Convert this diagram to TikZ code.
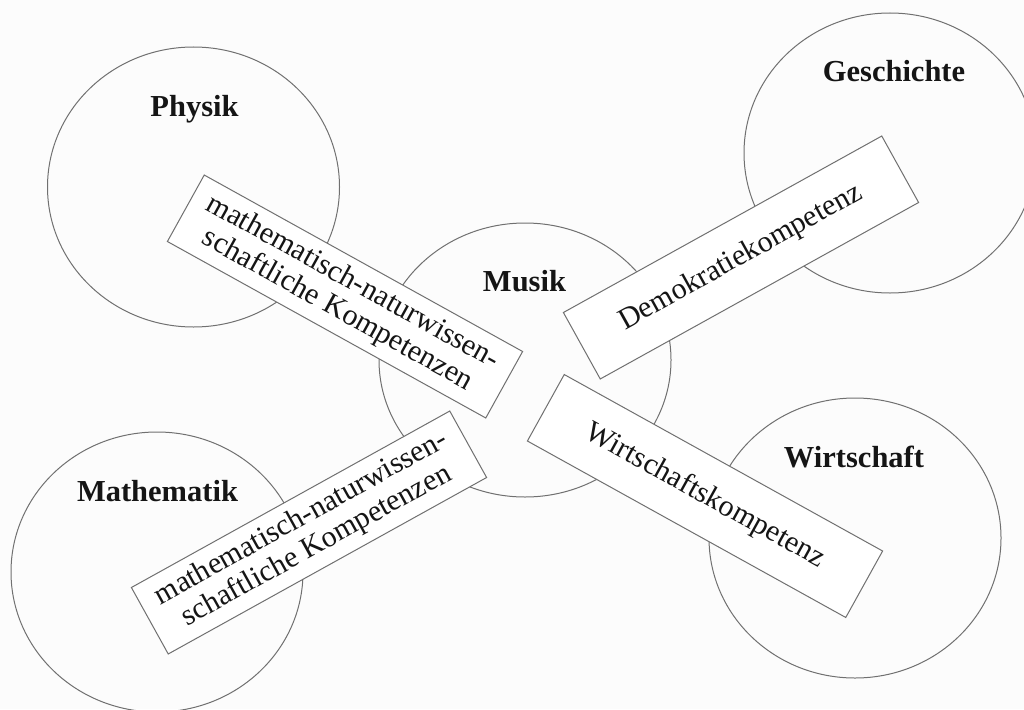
\documentclass[tikz,border=0pt]{standalone}
\usepackage{fontspec}
\setmainfont{Liberation Serif}
\usetikzlibrary{shapes.geometric}
\definecolor{bgc}{HTML}{FCFCFC}
\definecolor{linec}{HTML}{707070}
\definecolor{txtc}{HTML}{151515}
\tikzset{
  circ/.style={ellipse, draw=linec, line width=1pt, inner sep=0pt, minimum width=292pt, minimum height=280pt},
  subj/.style={anchor=base, text=txtc, inner sep=0pt, font=\fontsize{30.5}{32}\selectfont\bfseries},
  kbox/.style={rectangle, draw=linec, line width=1pt, fill=white, inner sep=0pt,
    minimum width=364pt, minimum height=76pt, align=center, text=txtc,
    font=\fontsize{30}{31.5}\selectfont}
}
\begin{document}
\begin{tikzpicture}[x=1pt,y=-1pt]
\fill[bgc] (0,0) rectangle (1024,709);
\useasboundingbox (0,0) rectangle (1024,709);
% circles
\node[circ] (cphys) at (193.5,187) {};
\node[circ] (cgesch) at (890,153) {};
\node[circ, minimum height=274pt] (cmusik) at (525,360) {};
\node[circ] (cmath) at (157,572) {};
\node[circ] (cwirt) at (855,538) {};
% subject labels
\node[subj] (lphys) at (194.5,116.7) {Physik};
\node[subj] (lgesch) at (894,81.7) {Geschichte};
\node[subj] (lmusik) at (524.5,291.7) {Musik};
\node[subj] (lmath) at (157.5,501.7) {Mathematik};
\node[subj] (lwirt) at (854,467) {Wirtschaft};
% competence boxes
\node[kbox, rotate=-29] (bphys) at (345,296.5) {mathematisch-naturwissen-\\schaftliche Kompetenzen};
\node[kbox, rotate=29] (bmath) at (309,532.5) {mathematisch-naturwissen-\\schaftliche Kompetenzen};
\node[kbox, rotate=29] (bgesch) at (741,257.5) {Demokratiekompetenz};
\node[kbox, rotate=-29] (bwirt) at (705,496) {Wirtschaftskompetenz};
\end{tikzpicture}
\end{document}
